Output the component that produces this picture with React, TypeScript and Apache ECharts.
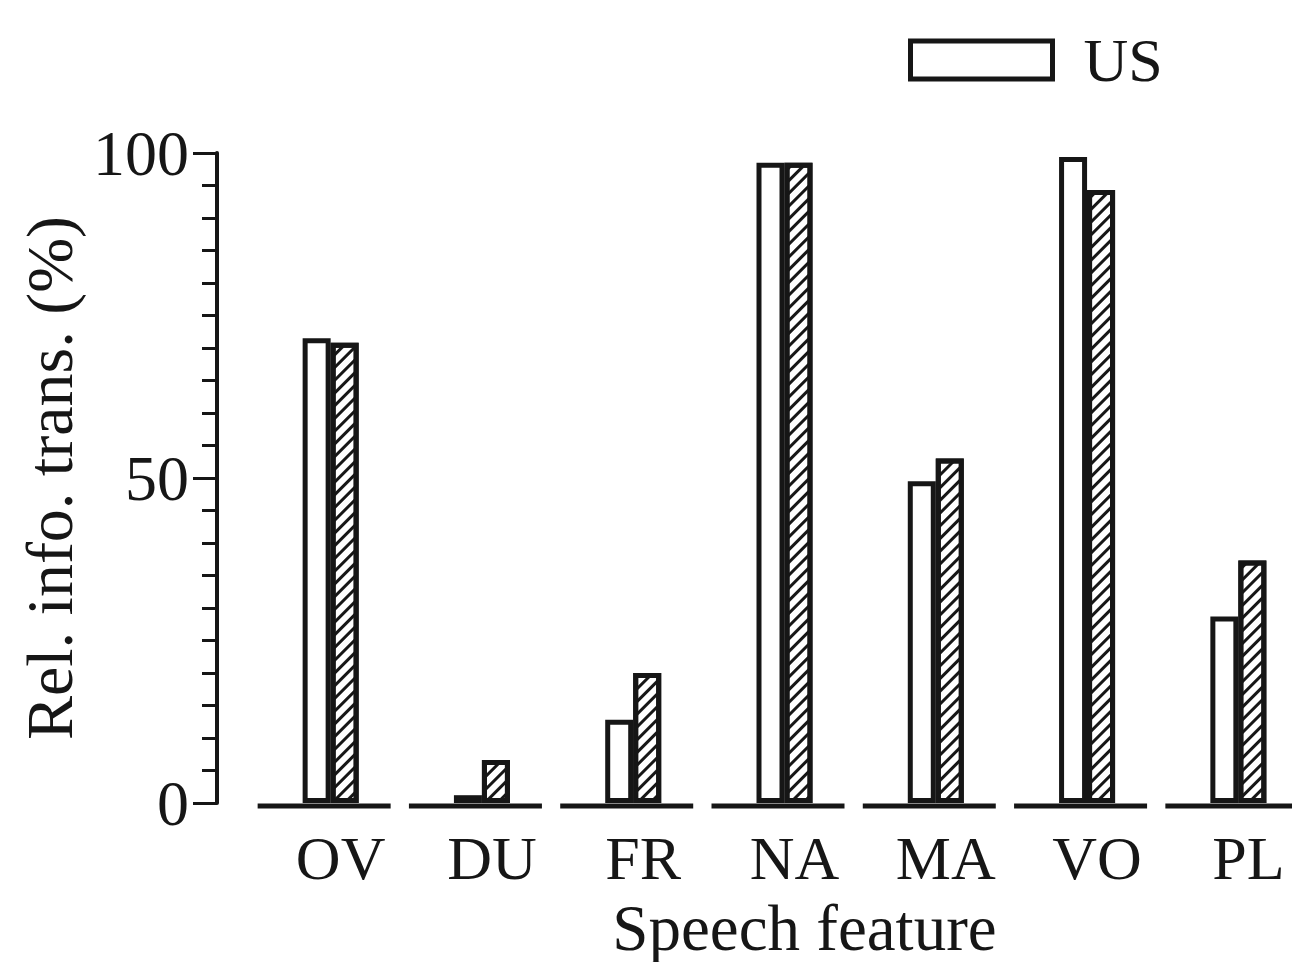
import React, { useEffect, useRef } from "react";
import * as echarts from "echarts";

const categories = ["OV", "DU", "FR", "NA", "MA", "VO", "PL"];
const usValues = [71.5, 1.2, 12.8, 98.5, 49.5, 99.4, 28.7];
const hatchedValues = [70.8, 6.6, 20.0, 98.5, 53.0, 94.3, 37.3];
const yTicks = [0, 50, 100];

const FONT = "Liberation Serif";
const INK = "#161616";

export default function App() {
  const ref = useRef<HTMLDivElement>(null);
  useEffect(() => {
    if (!ref.current) return;
    const chart = echarts.init(ref.current, undefined, { renderer: "svg" });
    chart.setOption({
      animation: false,
      backgroundColor: "#ffffff",
      textStyle: { fontFamily: FONT, color: INK },
      legend: {
        data: [{ name: "US", icon: "rect" }],
        left: 903,
        top: 24,
        itemWidth: 142,
        itemHeight: 38,
        selectedMode: false,
        itemStyle: { color: "#ffffff", borderColor: INK, borderWidth: 5 },
        textStyle: { fontFamily: FONT, fontSize: 62, color: INK, padding: [0, 0, 0, 26] },
      },
      grid: {
        left: 255,
        width: 1059,
        top: 153,
        bottom: 167,
        containLabel: false,
        outerBoundsMode: "none",
      },
      xAxis: {
        type: "category",
        data: categories,
        axisLine: { show: false },
        axisTick: { show: false },
        axisLabel: {
          fontFamily: FONT,
          fontSize: 62,
          color: INK,
          margin: 24,
          padding: [0, 0, 0, 20],
        },
        name: "Speech feature",
        nameLocation: "middle",
        nameGap: 92,
        nameTextStyle: { fontFamily: FONT, fontSize: 65, color: INK, padding: [0, 0, 0, 40] },
      },
      yAxis: {
        type: "value",
        min: yTicks[0],
        max: yTicks[yTicks.length - 1],
        interval: 50,
        offset: 38,
        splitLine: { show: false },
        axisLine: { show: true, lineStyle: { color: INK, width: 4 } },
        axisTick: { show: true, length: 24, inside: false, lineStyle: { color: INK, width: 3 } },
        minorTick: { show: true, splitNumber: 10, length: 15, lineStyle: { color: INK, width: 3 } },
        axisLabel: { fontFamily: FONT, fontSize: 64, color: INK, margin: 28 },
        name: "Rel. info. trans. (%)",
        nameLocation: "middle",
        nameRotate: 90,
        nameGap: 128,
        nameTextStyle: { fontFamily: FONT, fontSize: 66, color: INK },
      },
      series: [
        {
          name: "US",
          type: "bar",
          data: usValues,
          barWidth: 28,
          barGap: "0%",
          itemStyle: { color: "#ffffff", borderColor: INK, borderWidth: 5 },
        },
        {
          name: "Hatched",
          type: "bar",
          data: hatchedValues,
          barWidth: 28,
          itemStyle: {
            color: "#ffffff",
            borderColor: INK,
            borderWidth: 5,
            decal: {
              symbol: "rect",
              symbolSize: 1,
              color: INK,
              dashArrayX: [1, 0],
              dashArrayY: [3, 6],
              rotation: -Math.PI / 4,
            },
          },
        },
        {
          name: "baseline",
          type: "custom",
          data: categories.map((_, i) => [i, 0]),
          z: 5,
          renderItem: (params: any, api: any) => {
            const p = api.coord([api.value(0), 0]);
            return {
              type: "line",
              shape: { x1: p[0] - 73, y1: p[1] + 3, x2: p[0] + 60, y2: p[1] + 3 },
              style: { stroke: INK, lineWidth: 5 },
            };
          },
        },
      ],
    });
    return () => chart.dispose();
  }, []);
  return <div ref={ref} style={{ width: 1300, height: 970, margin: -8 }} />;
}
